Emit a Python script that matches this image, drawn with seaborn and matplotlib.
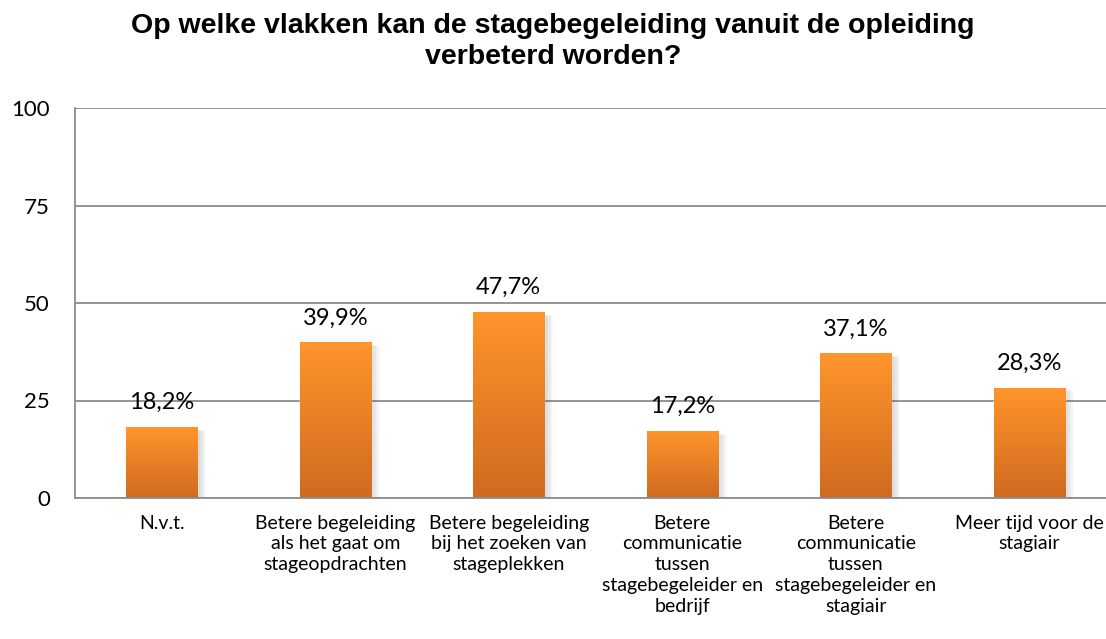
import matplotlib
matplotlib.use('Agg')
import matplotlib.pyplot as plt
import seaborn as sns
import numpy as np
import pandas as pd
from matplotlib.colors import LinearSegmentedColormap

categorieen = ['N.v.t.',
               'Betere begeleiding\nals het gaat om\nstageopdrachten',
               'Betere begeleiding\nbij het zoeken van\nstageplekken',
               'Betere\ncommunicatie\ntussen\nstagebegeleider en\nbedrijf',
               'Betere\ncommunicatie\ntussen\nstagebegeleider en\nstagiair',
               'Meer tijd voor de\nstagiair']
percentages = [18.2, 39.9, 47.7, 17.2, 37.1, 28.3]
labels = ['18,2%', '39,9%', '47,7%', '17,2%', '37,1%', '28,3%']
y_ticks = [0, 25, 50, 75, 100]

df = pd.DataFrame({'categorie': categorieen, 'pct': percentages})

sns.set_theme(style='white')
plt.rcParams['font.family'] = ['Lato', 'DejaVu Sans']
plt.rcParams['text.color'] = 'black'

fig = plt.figure(figsize=(11.06, 6.39), dpi=100)
ax = fig.add_axes([75 / 1106, 141 / 639, 1041 / 1106, 390 / 639])

sns.barplot(data=df, x='categorie', y='pct', color='#F18C2A', width=0.41, ax=ax, zorder=3)

# kleurverloop in de balken + zachte schaduw
cmap = LinearSegmentedColormap.from_list('oranje', ['#D06A20', '#FF952B'])
grad = np.linspace(0, 1, 256).reshape(-1, 1)
for p in list(ax.patches):
    x0, w, h = p.get_x(), p.get_width(), p.get_height()
    for k, a in [(0.045, 0.04), (0.03, 0.05), (0.015, 0.06)]:
        ax.bar(x0 + w / 2 + k, h + 0.3, width=w, bottom=-1.0, color='#000000', alpha=a,
               zorder=2, align='center')
    im = ax.imshow(grad, cmap=cmap, origin='lower', aspect='auto',
                   extent=[x0, x0 + w, 0, h], zorder=4)
    im.set_clip_path(p)

for i, (v, lab) in enumerate(zip(percentages, labels)):
    ax.text(i, v + 4.6, lab, ha='center', va='baseline', fontsize=17, color='black')

ax.set_xlim(-0.5, 5.5)
ax.set_ylim(0, 100)
ax.set_yticks(y_ticks)
ax.yaxis.grid(True, color='#8C8C8C', linewidth=1.3, zorder=0)
ax.set_axisbelow(True)
for s in ['top', 'right']:
    ax.spines[s].set_visible(False)
for s in ['left', 'bottom']:
    ax.spines[s].set_color('#8C8C8C')
    ax.spines[s].set_linewidth(1.3)
    ax.spines[s].set_zorder(5)
ax.tick_params(axis='y', length=6, color='#8C8C8C', width=1.3, labelsize=16, pad=12,
               labelcolor='black')
ax.tick_params(axis='x', length=0, labelsize=14, pad=12, labelcolor='black')
for t in ax.get_xticklabels():
    t.set_linespacing(1.27)
ax.set_xlabel('')
ax.set_ylabel('')

fig.text(0.5, 0.935, 'Op welke vlakken kan de stagebegeleiding vanuit de opleiding\nverbeterd worden?',
         ha='center', va='center', fontsize=20.5, fontweight='bold', color='black',
         family=['Liberation Sans', 'DejaVu Sans'], linespacing=1.25)

fig.savefig('out.png', dpi=100)
